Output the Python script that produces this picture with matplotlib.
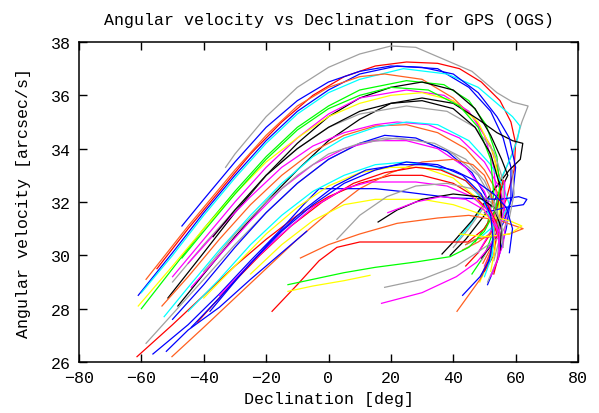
import matplotlib
matplotlib.use("Agg")
import matplotlib.pyplot as plt

# colours used by the passes
RED, GREEN, BLUE, MAGENTA = "#ff0000", "#00ff00", "#0000ff", "#ff00ff"
CYAN, YELLOW, BLACK, ORANGE, GRAY = "#00ffff", "#ffff00", "#000000", "#ff6020", "#a0a0a0"

# each pass: (declination [deg], angular velocity [arcsec/s])
p01 = [(-33, 33.3), (-30, 33.8), (-20, 35.2), (-10, 36.3), (0, 37.05), (10, 37.55), (20, 37.85),
       (28, 37.8), (36, 37.4), (46, 36.9), (54, 36.1), (59, 35.75), (64, 35.6), (62, 35.0), (59.5, 34.0),
       (56, 33.0), (51, 32.0), (45, 31.0), (40, 30.3)]
p02 = [(-55, 29.5), (-45, 31.0), (-35, 32.4), (-25, 33.8), (-15, 35.0), (-5, 36.0), (5, 36.7), (15, 37.1),
       (25, 37.25), (35, 37.2), (42, 37.0), (49, 36.5), (55, 35.8), (58.5, 35.0), (60, 34.2), (59.5, 33.2),
       (57, 32.1), (53, 31.0), (48, 30.1), (44, 29.6)]
p03 = [(-61, 28.5), (-50, 30.1), (-40, 31.6), (-30, 33.0), (-20, 34.3), (-10, 35.4), (0, 36.2), (10, 36.8),
       (22, 37.1), (35, 37.0), (45, 36.3), (52, 35.4), (56, 34.4), (58.5, 33.3), (58.5, 32.2), (57, 31.0),
       (54.5, 29.9), (51, 28.9)]
p04 = [(-60, 28.6), (-50, 30.0), (-40, 31.5), (-30, 32.9), (-20, 34.2), (-10, 35.3), (0, 36.1), (10, 36.6),
       (24, 37.0), (38, 36.8), (48, 36.3), (55, 35.6), (59, 35.2), (61.4, 34.85), (60.7, 34.4), (59, 33.8),
       (55, 32.8), (50, 31.9), (45, 31.1), (41, 30.5)]
p05 = [(-58.5, 29.1), (-45, 31.1), (-30, 33.2), (-20, 34.5), (-10, 35.6), (0, 36.3), (10, 36.7), (18, 36.8),
       (30, 36.6), (40, 35.9), (47, 35.1), (52, 34.1), (55, 32.9), (55.5, 31.7), (53.5, 30.6), (49.5, 29.7)]
p06 = [(-60, 28.0), (-50, 29.5), (-40, 31.0), (-30, 32.4), (-20, 33.7), (-10, 34.8), (0, 35.6), (10, 36.2),
       (25, 36.55), (37, 36.4), (45, 35.8), (50.5, 34.9), (54, 33.7), (55, 32.4), (53.5, 31.1), (50, 30.0),
       (46, 29.3)]
p07 = [(-51.5, 28.4), (-40, 30.1), (-30, 31.6), (-20, 33.0), (-10, 34.2), (0, 35.2), (10, 35.9), (20, 36.3),
       (30, 36.5), (40, 36.2), (47, 35.5), (52, 34.5), (55.5, 33.6), (57.5, 33.0), (55, 32.4), (50, 31.5),
       (44, 30.6), (39, 30.0)]
p08 = [(-50, 29.2), (-40, 30.6), (-30, 32.0), (-20, 33.3), (-10, 34.4), (0, 35.3), (10, 35.9), (25, 36.2),
       (37, 36.0), (45, 35.4), (50, 34.5), (53, 33.3), (54, 32.0), (52, 30.9), (48, 30.1)]
p09 = [(-61, 28.1), (-50, 29.6), (-40, 31.0), (-30, 32.3), (-20, 33.5), (-10, 34.4), (0, 35.2), (10, 35.7),
       (20, 36.0), (30, 36.1), (40, 35.8), (48, 35.0), (53, 33.8), (55, 32.3), (54.5, 31.0), (52, 29.9),
       (48.5, 29.0)]
p10 = [(-48.3, 28.1), (-40, 29.3), (-30, 30.7), (-20, 32.0), (-10, 33.2), (0, 34.3), (10, 35.1), (20, 35.7),
       (30, 35.9), (40, 35.7), (48, 35.1), (54, 34.6), (59, 34.3), (62.3, 34.2), (61.5, 33.6), (58, 33.2),
       (52, 32.3), (46, 31.3), (40, 30.5), (36.4, 30.05)]
p11 = [(-50, 29.0), (-40, 30.4), (-30, 31.7), (-20, 33.0), (-10, 34.0), (0, 34.8), (10, 35.3), (25, 35.6),
       (38, 35.4), (47, 34.8), (53, 33.9), (56, 32.8), (56, 31.6), (53, 30.6), (49, 29.8)]
p12 = [(-45, 29.7), (-35, 31.0), (-25, 32.2), (-15, 33.3), (-5, 34.1), (5, 34.6), (15, 34.9), (22, 35.0),
       (32, 34.9), (42, 34.4), (50, 33.5), (55, 32.5), (57, 31.4), (56, 30.4), (53, 29.5)]
p13 = [(-53.4, 28.1), (-45, 29.2), (-35, 30.6), (-25, 31.9), (-15, 33.0), (-5, 33.9), (5, 34.5), (15, 34.85),
       (25, 34.9), (35, 34.6), (44, 34.0), (50, 33.2), (54, 32.4), (57, 31.6), (54, 31.0), (48, 30.5),
       (43, 30.2)]
p14 = [(-58.5, 26.7), (-50, 27.8), (-40, 29.1), (-30, 30.4), (-20, 31.6), (-10, 32.7), (0, 33.6), (10, 34.2),
       (18, 34.4), (30, 34.3), (40, 33.8), (48, 33.0), (53, 32.0), (55, 30.8), (54, 29.8), (51, 29.0)]
p15 = [(-52.7, 27.7), (-45, 28.8), (-35, 30.2), (-25, 31.5), (-15, 32.7), (-5, 33.7), (5, 34.4), (15, 34.8),
       (25, 35.0), (35, 34.9), (45, 34.3), (52, 33.4), (56, 32.6), (58, 31.9), (55, 31.3), (49, 30.7),
       (44, 30.4)]
p16 = [(-47, 29.9), (-40, 30.9), (-30, 32.3), (-20, 33.6), (-10, 34.7), (0, 35.5), (10, 36.0), (20, 36.3),
       (32, 36.2), (42, 35.6), (48, 34.8), (52, 33.6), (53, 32.3), (51, 31.2), (47, 30.5)]
p17 = [(-47, 31.1), (-40, 32.1), (-30, 33.5), (-20, 34.8), (-10, 35.8), (0, 36.5), (10, 36.9), (20, 37.1),
       (30, 37.05), (40, 36.8), (48, 36.1), (54, 35.2), (58, 34.4), (60, 33.3), (59, 32.2), (56, 31.2),
       (51, 30.2)]
p18 = [(-37, 30.7), (-30, 31.7), (-20, 33.0), (-10, 34.0), (0, 34.8), (10, 35.4), (20, 35.7), (30, 35.8),
       (40, 35.5), (47, 34.8), (52, 33.8), (55, 32.6), (55.5, 31.4), (53, 30.5), (49, 29.9)]
p19 = [(-50, 27.6), (-40, 28.9), (-30, 30.3), (-20, 31.6), (-10, 32.7), (0, 33.6), (10, 34.2), (18, 34.5),
       (28, 34.4), (38, 33.9), (46, 33.1), (51, 32.1), (53, 31.0), (52, 30.0), (49, 29.2)]
p20 = [(-44, 28.8), (-35, 30.0), (-25, 31.3), (-15, 32.5), (-5, 33.4), (5, 34.0), (15, 34.3), (25, 34.3),
       (35, 34.0), (44, 33.3), (50, 32.4), (53, 31.4), (53, 30.4), (50, 29.6)]
p21 = [(-40, 29.4), (-30, 30.8), (-20, 32.0), (-10, 33.0), (0, 33.8), (10, 34.2), (22, 34.4), (34, 34.2),
       (44, 33.6), (50, 32.8), (54, 31.8), (55, 30.7), (53, 29.8)]
p22 = [(-61.4, 26.2), (-50, 27.4), (-40, 28.5), (-30, 29.6), (-20, 30.6), (-10, 31.5), (0, 32.2), (10, 32.7),
       (20, 33.0), (30, 33.0), (40, 32.7), (47, 32.2), (52, 31.6), (54, 30.8), (53, 30.0), (50, 29.4)]
p23 = [(-50.2, 26.2), (-40, 27.3), (-30, 28.4), (-20, 29.5), (-10, 30.6), (0, 31.6), (10, 32.5), (20, 33.1),
       (30, 33.5), (40, 33.6), (46.3, 33.4), (50, 33.0), (51.8, 32.5), (53.4, 31.5), (52.7, 30.35),
       (48.6, 29.1), (41.2, 27.9)]
p24 = [(-52, 26.4), (-45, 27.2), (-35, 28.05), (-25, 29.1), (-15, 30.1), (-7, 30.9)]
p25 = [(-56.3, 26.3), (-45, 27.4), (-35, 28.55), (-25, 29.8), (-15, 31.0), (-8, 31.9), (-3, 32.5), (15, 32.5),
       (23, 32.4), (40, 32.15), (55, 32.1), (61, 32.2), (63.6, 32.1), (62.5, 31.9), (57, 31.8), (50, 31.6)]
p26 = [(-18.1, 27.9), (-10, 28.9), (-3, 29.8), (2.7, 30.3), (10, 30.5), (25, 30.5), (37, 30.5), (44.7, 30.5),
       (50, 31.0), (54, 31.8), (56, 32.8)]
p27 = [(-9, 29.9), (0, 30.4), (10, 30.8), (22, 31.2), (35, 31.4), (45, 31.5), (55, 31.3), (62.4, 31.0),
       (58, 30.8), (52, 30.7), (47, 30.6), (44, 30.4)]
p28 = [(-13, 28.9), (-5, 29.1), (5, 29.35), (15, 29.55), (28, 29.75), (39, 29.95), (45, 30.3), (50, 30.9),
       (53.5, 31.7), (55, 32.6)]
p29 = [(-13, 28.65), (-5, 28.85), (5, 29.05), (13.3, 29.25)]
p30 = [(18, 28.8), (30, 29.1), (41, 29.6), (47.6, 30.1), (55, 30.7), (58, 31.4), (59.5, 32.3), (59, 33.2)]
p31 = [(17, 28.2), (30, 28.6), (41, 29.2), (47.6, 29.75), (51.8, 30.35), (55, 31.0), (56.5, 31.9), (56.5, 32.8)]
p32 = [(-25, 29.3), (-15, 30.4), (-5, 31.3), (5, 31.9), (15, 32.1), (30, 32.1), (40, 31.9), (50, 31.5),
       (58, 31.3), (62, 31.1), (58, 30.8), (50, 30.7), (42, 30.8)]
p33 = [(-45, 27.9), (-35, 29.1), (-25, 30.4), (-15, 31.5), (-5, 32.4), (5, 33.0), (15, 33.4), (25, 33.5),
       (35, 33.3), (44, 32.8), (50, 32.0), (53, 31.0), (52.5, 30.0), (50, 29.2)]
p34 = [(-40, 28.4), (-30, 29.6), (-20, 30.8), (-10, 31.8), (0, 32.6), (10, 33.1), (20, 33.3), (30, 33.3),
       (40, 32.9), (47, 32.2), (52, 31.3), (53.5, 30.3), (52, 29.4)]
p35 = [(-42, 27.5), (-32, 28.8), (-22, 30.0), (-12, 31.1), (-2, 32.0), (8, 32.7), (18, 33.1), (28, 33.3),
       (36, 33.2), (44, 32.8), (50, 32.1), (54, 31.2), (55, 30.2), (53, 29.3)]
p36 = [(-38, 27.9), (-28, 29.3), (-18, 30.6), (-8, 31.7), (2, 32.6), (12, 33.2), (23, 33.4), (31.5, 33.4),
       (40, 33.2), (47, 32.8), (53, 32.3), (57, 31.8), (59, 31.0), (58, 30.1)]
p37 = [(-35, 28.5), (-25, 29.7), (-15, 30.8), (-5, 31.8), (5, 32.5), (13, 32.75), (28, 32.75), (38, 32.6),
       (46, 32.2), (52, 31.6), (55, 30.8), (54.5, 29.9), (52, 29.2)]
p38 = [(15.9, 31.25), (22, 31.7), (30, 32.1), (40, 32.3), (48, 32.2), (53, 31.8), (55.5, 31.0), (55, 30.2)]
p39 = [(2.7, 30.6), (10, 31.5), (18.7, 32.2), (28, 32.6), (38, 32.7), (46, 32.5), (52, 32.0), (55.5, 31.2),
       (56, 30.3)]
p40 = [(19, 31.6), (28, 32.0), (36, 32.2), (44, 32.1), (50, 31.7), (54, 31.0), (55, 30.1)]
p41 = [(-44, 27.3), (-35, 28.4), (-25, 29.7), (-15, 30.9), (-5, 31.9), (5, 32.7), (15, 33.2), (25, 33.5),
       (35, 33.4), (43, 33.0), (49, 32.3), (52, 31.5), (52.8, 30.6), (51.5, 29.8), (48.6, 29.2), (43, 28.5)]

passes = [p01, p02, p03, p04, p05, p06, p07, p08, p09, p10, p11, p12, p13, p14, p15, p16, p17, p18, p19, p20,
          p21, p22, p23, p24, p25, p26, p27, p28, p29, p30, p31, p32, p33, p34, p35, p36, p37, p38, p39, p40,
          p41]
pass_colors = [GRAY, RED, BLUE, CYAN, ORANGE, GREEN, BLACK, MAGENTA, YELLOW, BLACK,
               GRAY, MAGENTA, ORANGE, GRAY, CYAN, GREEN, BLUE, BLACK, BLUE, MAGENTA,
               GRAY, RED, ORANGE, BLUE, BLUE, RED, ORANGE, GREEN, YELLOW, GRAY,
               MAGENTA, YELLOW, CYAN, YELLOW, RED, BLUE, MAGENTA, BLACK, GRAY, MAGENTA,
               BLUE]

plt.rcParams["font.family"] = ["Liberation Mono", "DejaVu Sans Mono"]
plt.rcParams["font.size"] = 12

fig = plt.figure(figsize=(5.99, 4.14), dpi=100)
ax = fig.add_axes([79 / 599, 51 / 414, 499 / 599, 320 / 414])

for pts, col in zip(passes, pass_colors):
    xs = [p[0] for p in pts]
    ys = [p[1] for p in pts]
    ax.plot(xs, ys, color=col, lw=0.9)

ax.set_xlim(-80, 80)
ax.set_ylim(26, 38)
ax.set_xticks(range(-80, 81, 20))
ax.set_yticks(range(26, 39, 2))
ax.tick_params(direction="in", top=True, right=True, length=6, width=1, pad=6)
for s in ax.spines.values():
    s.set_linewidth(1.1)
ax.set_title("Angular velocity vs Declination for GPS (OGS)", fontsize=12, pad=13)
ax.set_xlabel("Declination [deg]", labelpad=4)
ax.set_ylabel("Angular velocity [arcsec/s]", labelpad=14)

fig.savefig("out.png", dpi=100)
